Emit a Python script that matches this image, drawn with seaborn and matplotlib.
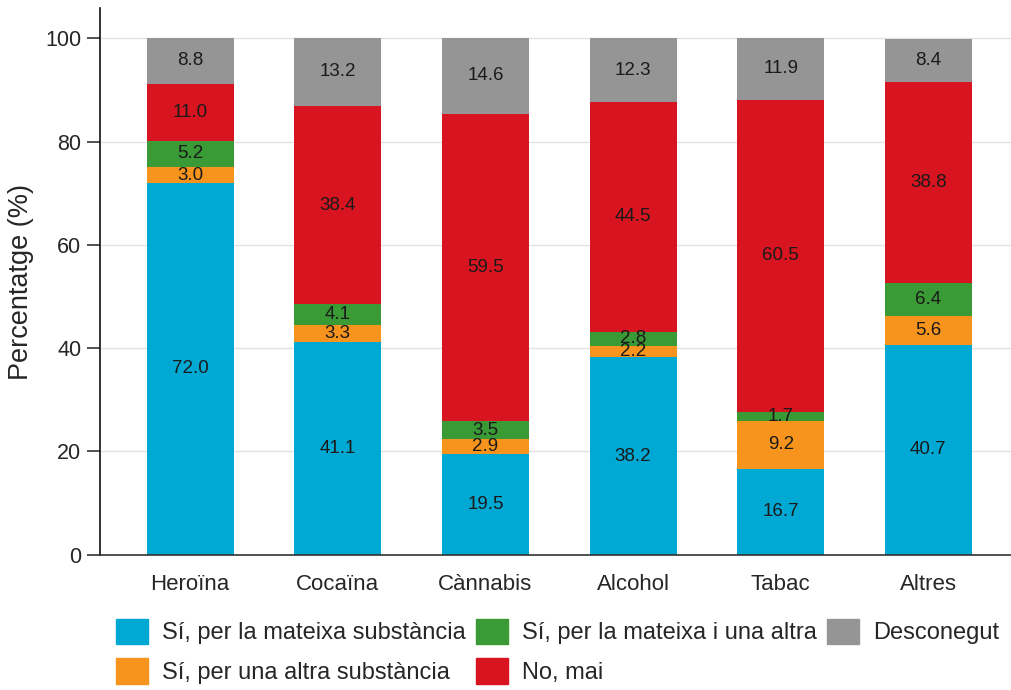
import numpy as np
import pandas as pd
import matplotlib
matplotlib.use('Agg')
import matplotlib.pyplot as plt
import matplotlib.patches as mpatches
import seaborn as sns

# 데이터
categories = ['Heroïna', 'Cocaïna', 'Cànnabis', 'Alcohol', 'Tabac', 'Altres']
series_names = ['Sí, per la mateixa substància', 'Sí, per una altra substància',
                'Sí, per la mateixa i una altra', 'No, mai', 'Desconegut']
same_sub = [72.0, 41.1, 19.5, 38.2, 16.7, 40.7]
other_sub = [3.0, 3.3, 2.9, 2.2, 9.2, 5.6]
both_sub = [5.2, 4.1, 3.5, 2.8, 1.7, 6.4]
never = [11.0, 38.4, 59.5, 44.5, 60.5, 38.8]
unknown = [8.8, 13.2, 14.6, 12.3, 11.9, 8.4]
colors = ['#00A9D4', '#F7941D', '#3A9A35', '#D7141F', '#959595']

values = [same_sub, other_sub, both_sub, never, unknown]

sns.set_style('white')
plt.rcParams['font.family'] = ['Liberation Sans', 'DejaVu Sans']

fig = plt.figure(figsize=(10.11, 6.9), dpi=100)
ax = fig.add_axes([0.099, 0.196, 0.901, 0.792])

# 누적값 (위에서부터 그려서 겹치게 한다)
cum = np.cumsum(np.array(values), axis=0)
for i in range(len(values) - 1, -1, -1):
    df = pd.DataFrame({'cat': categories, 'val': cum[i]})
    sns.barplot(data=df, x='cat', y='val', color=colors[i], width=0.59,
                saturation=1, linewidth=0, ax=ax, zorder=2)

# 값 라벨
for i, v in enumerate(values):
    for j, val in enumerate(v):
        mid = cum[i][j] - val / 2
        ax.text(j, mid, f'{val:.1f}', ha='center', va='center',
                fontsize=13.5, color='#1a1a1a', zorder=3)

ax.set_ylim(0, 105.8)
ax.set_xlim(-0.61, 5.56)
ax.set_yticks([0, 20, 40, 60, 80, 100])
ax.yaxis.grid(True, color='#e3e3e3', linewidth=1, zorder=0)
ax.set_axisbelow(True)
ax.set_xlabel('')
ax.set_ylabel('Percentatge (%)', fontsize=19.5, labelpad=8)
ax.tick_params(axis='y', left=True, length=9.5, width=1.2, color='#333333',
               labelsize=15.5, pad=4)
ax.tick_params(axis='x', bottom=False, labelsize=16, pad=10)
for s in ['top', 'right']:
    ax.spines[s].set_visible(False)
ax.spines['left'].set_color('#111111')
ax.spines['bottom'].set_color('#333333')
ax.spines['left'].set_linewidth(1.2)
ax.spines['bottom'].set_linewidth(1.2)

handles = [mpatches.Patch(color=c, label=n) for c, n in zip(colors, series_names)]
fig.legend(handles=handles, loc='lower left', bbox_to_anchor=(0.105, -0.005),
           ncol=3, frameon=False, fontsize=17, handlelength=1.36,
           handleheight=1.27, handletextpad=0.6, columnspacing=0.42,
           labelspacing=0.6, borderaxespad=0.0)

plt.savefig('out.png', dpi=100)
plt.close()
